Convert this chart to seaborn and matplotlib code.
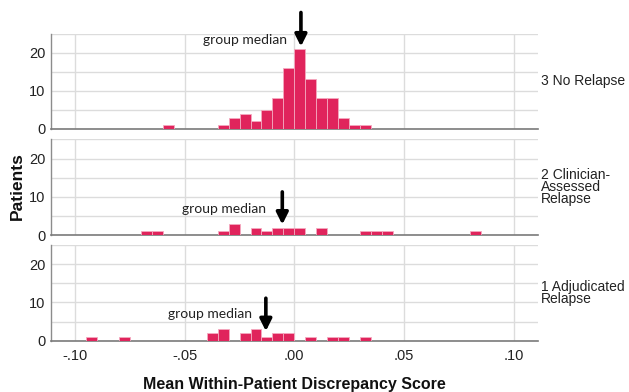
import numpy as np
import pandas as pd
import matplotlib
matplotlib.use("Agg")
import matplotlib.pyplot as plt
import seaborn as sns

# Histogram bins (left edges, width 0.005) and patient counts per group
BIN_WIDTH = 0.005

no_relapse_bins = [-0.060, -0.035, -0.030, -0.025, -0.020, -0.015, -0.010, -0.005,
                   0.000, 0.005, 0.010, 0.015, 0.020, 0.025, 0.030]
no_relapse_counts = [1, 1, 3, 4, 2, 5, 8, 16, 21, 13, 8, 8, 3, 1, 1]

clinician_bins = [-0.070, -0.065, -0.035, -0.030, -0.020, -0.015, -0.010, -0.005,
                  0.000, 0.010, 0.030, 0.035, 0.040, 0.080]
clinician_counts = [1, 1, 1, 3, 2, 1, 2, 2, 2, 2, 1, 1, 1, 1]

adjudicated_bins = [-0.095, -0.080, -0.040, -0.035, -0.025, -0.020, -0.015, -0.010,
                    -0.005, 0.005, 0.015, 0.020, 0.030]
adjudicated_counts = [1, 1, 2, 3, 2, 3, 1, 2, 2, 1, 1, 1, 1]

group_labels = ["3 No Relapse", "2 Clinician-\nAssessed\nRelapse", "1 Adjudicated\nRelapse"]
group_medians = [0.003, -0.0055, -0.013]

x_ticks = [-0.10, -0.05, 0.00, 0.05, 0.10]
x_tick_labels = ["-.10", "-.05", ".00", ".05", ".10"]
y_ticks = [0, 5, 10, 15, 20, 25]
y_tick_labels = ["0", "", "10", "", "20", ""]

groups = [
    (no_relapse_bins, no_relapse_counts),
    (clinician_bins, clinician_counts),
    (adjudicated_bins, adjudicated_counts),
]

# "group median" annotation placement: (text right edge x, text y, arrow start y, arrow tip y)
median_text = [(-0.0035, 23.2, 30.5, 21.6), (-0.0130, 6.9, 11.3, 2.8), (-0.0195, 6.9, 11.1, 2.5)]

BAR_COLOR = "#E0245C"
EDGE_COLOR = "#F4A9BF"
GRID_COLOR = "#DCDCDC"
SPINE_COLOR = "#8C8C8C"

sns.set_style("white")
plt.rcParams["font.family"] = ["Liberation Sans", "DejaVu Sans"]

fig = plt.figure(figsize=(6.29, 3.92), dpi=100)

left, width = 51 / 629, (537.7 - 51) / 629
panel_px = [(33.5, 129.0), (139.3, 235.3), (245.0, 340.7)]

for i, ((bins, counts), label, med, (tx, ty, ay0, ay1)) in enumerate(
        zip(groups, group_labels, group_medians, median_text)):
    top_px, bot_px = panel_px[i]
    ax = fig.add_axes([left, 1 - bot_px / 392, width, (bot_px - top_px) / 392])

    df = pd.DataFrame({"score": np.array(bins) + BIN_WIDTH / 2, "patients": counts})
    sns.histplot(data=df, x="score", weights="patients",
                 binwidth=BIN_WIDTH, binrange=(-0.110, 0.110),
                 color=BAR_COLOR, alpha=1, edgecolor=EDGE_COLOR, linewidth=0.6,
                 ax=ax, zorder=3)

    ax.set_xlim(-0.111, 0.111)
    ax.set_ylim(0, 25)
    ax.set_xticks(x_ticks)
    ax.set_yticks(y_ticks)
    ax.set_yticklabels(y_tick_labels)
    if i == 2:
        ax.set_xticklabels(x_tick_labels)
    else:
        ax.set_xticklabels([])
    ax.tick_params(axis="both", length=0, labelsize=10.5, labelcolor="#222222")
    ax.tick_params(axis="x", pad=6)
    ax.tick_params(axis="y", pad=4)
    ax.set_xlabel("")
    ax.set_ylabel("")

    ax.grid(True, color=GRID_COLOR, linewidth=1.0, zorder=0)
    ax.set_axisbelow(True)
    for side in ("top", "right"):
        ax.spines[side].set_visible(False)
    ax.spines["left"].set_color(SPINE_COLOR)
    ax.spines["left"].set_linewidth(1.0)
    ax.spines["bottom"].set_color("#7A7A7A")
    ax.spines["bottom"].set_linewidth(1.2)

    ax.text(1.007, 0.5, label, transform=ax.transAxes, ha="left", va="center",
            fontsize=10, color="#222222", linespacing=0.82)

    # group median marker
    ax.annotate("", xy=(med, ay1), xytext=(med, ay0), xycoords="data",
                textcoords="data", annotation_clip=False,
                arrowprops=dict(arrowstyle="-|>,head_length=0.7,head_width=0.35",
                                color="black", lw=2.6, shrinkA=0, shrinkB=0))
    ax.text(tx, ty, "group median", ha="right", va="center", fontsize=10,
            family=["Lato", "DejaVu Sans"], color="#222222", clip_on=False)

fig.text(17 / 629, 1 - 186 / 392, "Patients", rotation=90, ha="center", va="center",
         fontsize=12.5, fontweight="bold", color="#111111")
fig.text(294 / 629, 1 - 384 / 392, "Mean Within-Patient Discrepancy Score",
         ha="center", va="center", fontsize=11.5, fontweight="bold", color="#111111")

fig.savefig("out.png", dpi=100)
